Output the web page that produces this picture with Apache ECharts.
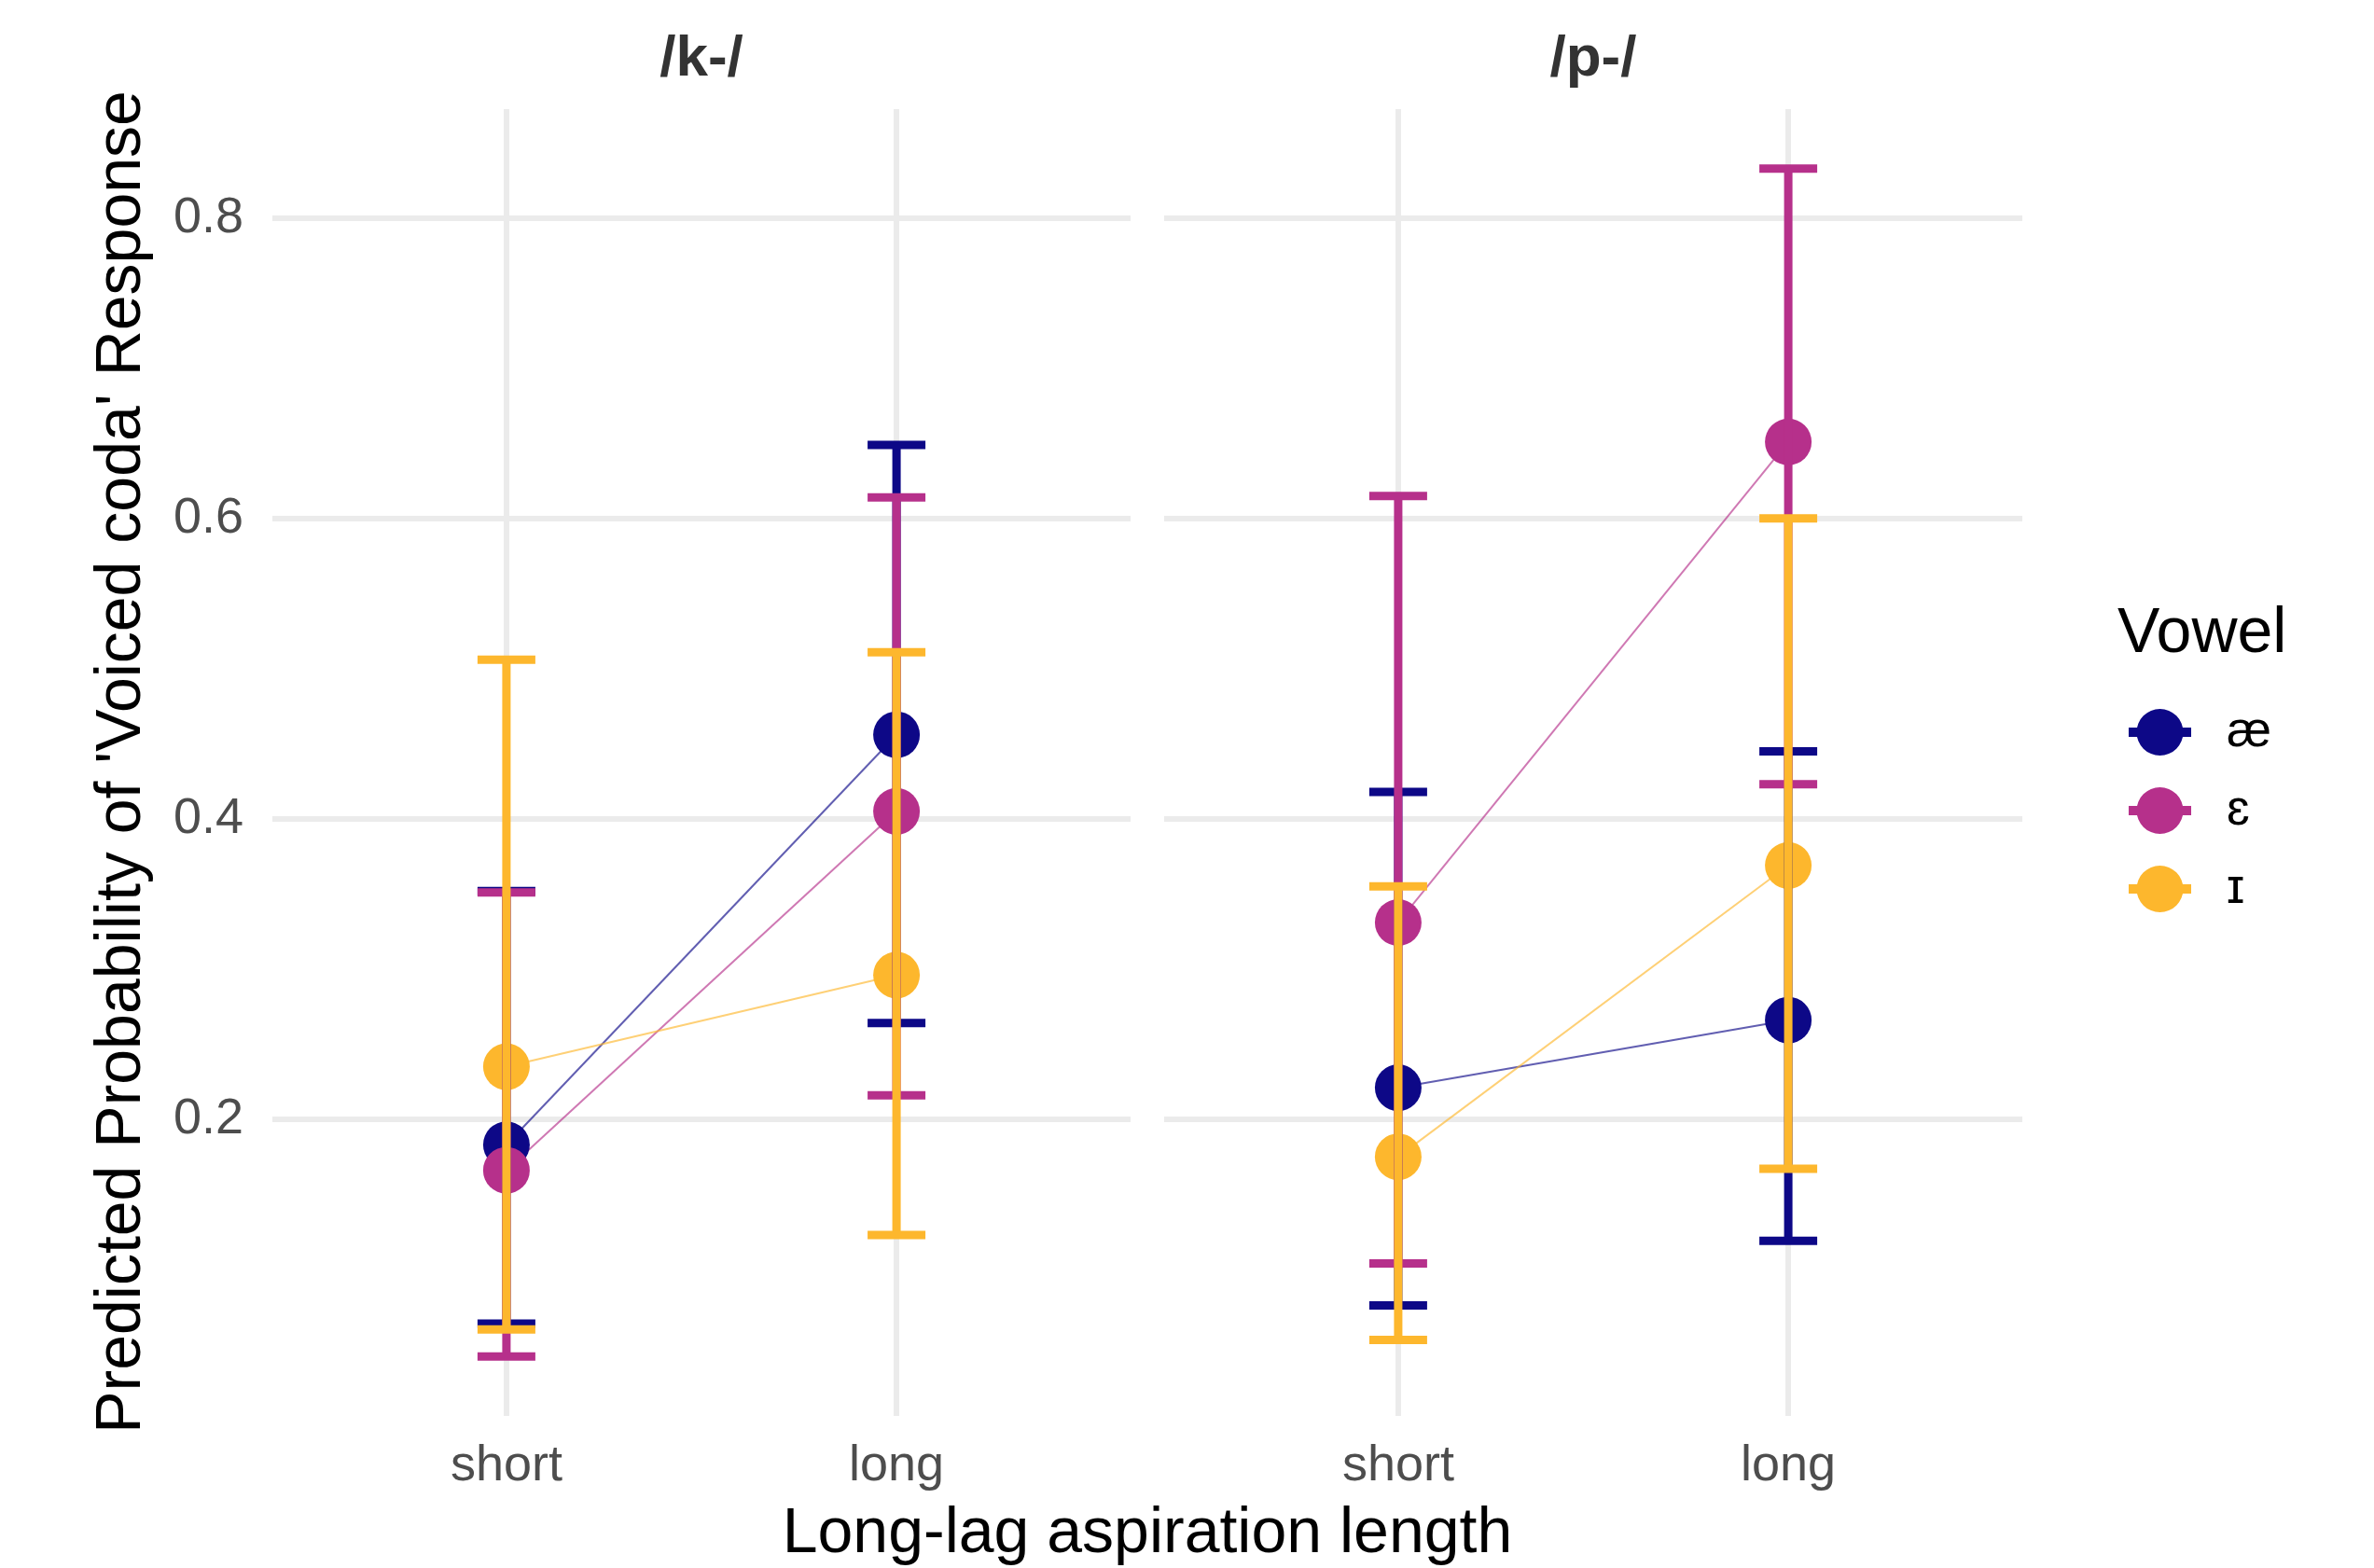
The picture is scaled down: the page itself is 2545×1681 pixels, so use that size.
<!DOCTYPE html>
<html>
<head>
<meta charset="utf-8">
<script src="https://cdn.jsdelivr.net/npm/echarts@6/dist/echarts.min.js"></script>
<style>
html,body{margin:0;padding:0;background:#fff;}
#chart{width:2545px;height:1681px;}
</style>
</head>
<body>
<div id="chart"></div>
<script>
// ---------- data ----------
const panelTitles = ['/k-/', '/p-/'];
const durations = ['short', 'long'];
const vowels = ['æ', 'ɛ', 'ɪ'];
const yTicks = [0.2, 0.4, 0.6, 0.8];

// rows: vowel (æ, ɛ, ɪ); columns: duration (short, long)
const kEstimate = [[0.183, 0.456], [0.166, 0.405], [0.235, 0.296]];
const kLower    = [[0.064, 0.264], [0.042, 0.216], [0.060, 0.123]];
const kUpper    = [[0.352, 0.649], [0.351, 0.614], [0.506, 0.511]];

const pEstimate = [[0.221, 0.266], [0.331, 0.651], [0.175, 0.369]];
const pLower    = [[0.076, 0.119], [0.104, 0.423], [0.053, 0.167]];
const pUpper    = [[0.418, 0.445], [0.615, 0.833], [0.355, 0.600]];

// ---------- style ----------
const vowelColors = ['#0D0887', '#B6308B', '#FDB72D'];
const FONT = '"Liberation Sans", Arial, Helvetica, sans-serif';
const GRID_COLOR = '#EBEBEB';

const panels = [
  {est: kEstimate, lo: kLower, hi: kUpper},
  {est: pEstimate, lo: pLower, hi: pUpper}
];

const allLo = [].concat(...kLower, ...pLower);
const allHi = [].concat(...kUpper, ...pUpper);
const dMin = Math.min(...allLo), dMax = Math.max(...allHi);
const pad = (dMax - dMin) * 0.05;
const yMin = dMin - pad, yMax = dMax + pad;

const gridTop = 117, gridHeight = 1401;
const gridLefts = [292, 1248], gridWidth = 920;

const grids = gridLefts.map(l => ({left: l, top: gridTop, width: gridWidth, height: gridHeight}));

const xAxes = gridLefts.map((l, i) => ({
  type: 'value', gridIndex: i, min: 0.4, max: 2.6, splitNumber: 2,
  axisLine: {show: false}, axisTick: {show: false}, splitLine: {show: false},
  axisLabel: {
    show: true, margin: 27, color: '#4D4D4D', fontSize: 54, fontFamily: FONT,
    showMinLabel: false, showMaxLabel: false,
    formatter: v => {
      const r = Math.round(v);
      return (Math.abs(v - r) < 1e-6 && r >= 1 && r <= durations.length) ? durations[r - 1] : '';
    }
  }
}));

const yAxes = gridLefts.map((l, i) => ({
  type: 'value', gridIndex: i, min: yMin, max: yMax,
  axisLine: {show: false}, axisTick: {show: false}, splitLine: {show: false},
  axisLabel: {
    show: i === 0, margin: 31, color: '#4D4D4D', fontSize: 54, fontFamily: FONT,
    showMinLabel: false, showMaxLabel: false,
    formatter: v => yTicks.some(t => Math.abs(t - v) < 1e-6) ? v.toFixed(1) : ''
  }
}));

const series = [];
panels.forEach((pn, pi) => {
  // grid lines
  series.push({
    type: 'line', name: '', xAxisIndex: pi, yAxisIndex: pi, data: [], silent: true, z: 0,
    markLine: {
      z: 0, silent: true, symbol: ['none', 'none'], animation: false,
      label: {show: false}, emphasis: {disabled: true},
      lineStyle: {color: GRID_COLOR, width: 6, type: 'solid'},
      data: yTicks.map(t => ({yAxis: t})).concat(durations.map((d, di) => ({xAxis: di + 1})))
    }
  });
  // connecting lines
  vowels.forEach((v, vi) => {
    series.push({
      type: 'line', name: v, xAxisIndex: pi, yAxisIndex: pi, z: 10,
      showSymbol: false, silent: true,
      lineStyle: {color: vowelColors[vi], width: 2, opacity: 0.65},
      data: durations.map((d, di) => [di + 1, pn.est[vi][di]])
    });
  });
  // points
  vowels.forEach((v, vi) => {
    series.push({
      type: 'scatter', name: v, xAxisIndex: pi, yAxisIndex: pi, z: 11,
      symbol: 'circle', symbolSize: 50, silent: true,
      itemStyle: {color: vowelColors[vi], opacity: 1},
      data: durations.map((d, di) => [di + 1, pn.est[vi][di]])
    });
  });
  // error bars (drawn as filled rectangles)
  vowels.forEach((v, vi) => {
    series.push({
      type: 'custom', name: v, xAxisIndex: pi, yAxisIndex: pi, z: 12 + vi, silent: true,
      encode: {x: 0, y: [1, 2]},
      data: durations.map((d, di) => [di + 1, pn.lo[vi][di], pn.hi[vi][di]]),
      renderItem: (params, api) => {
        const x = api.value(0), lo = api.value(1), hi = api.value(2);
        const a = api.coord([x, lo]), b = api.coord([x, hi]);
        const hw = 31, lw = 9, c = vowelColors[vi];
        return {
          type: 'group',
          children: [
            {type: 'rect', shape: {x: a[0] - lw / 2, y: b[1], width: lw, height: a[1] - b[1]}, style: {fill: c}},
            {type: 'rect', shape: {x: a[0] - hw, y: a[1] - lw / 2, width: 2 * hw, height: lw}, style: {fill: c}},
            {type: 'rect', shape: {x: b[0] - hw, y: b[1] - lw / 2, width: 2 * hw, height: lw}, style: {fill: c}}
          ]
        };
      }
    });
  });
});

const legendIcon = 'path://M0,20L67,20L67,30L0,30Z M8.5,25A25,25 0 1,1 58.5,25A25,25 0 1,1 8.5,25Z';

const option = {
  animation: false,
  backgroundColor: '#ffffff',
  grid: grids,
  xAxis: xAxes,
  yAxis: yAxes,
  legend: {
    orient: 'vertical', left: 2277, top: 753, itemWidth: 67, itemHeight: 50, itemGap: 30,
    selectedMode: false,
    textStyle: {fontSize: 54, fontFamily: FONT, color: '#000', lineHeight: 50, padding: [0, 0, 0, 33]},
    data: vowels.map((v, vi) => ({name: v, icon: legendIcon, itemStyle: {color: vowelColors[vi]}}))
  },
  graphic: [
    {type: 'text', x: 131, y: 817, rotation: Math.PI / 2, silent: true,
     style: {text: "Predicted Probability of 'Voiced coda' Response", fontSize: 68, fontFamily: FONT,
             fill: '#000', textAlign: 'center', textVerticalAlign: 'middle'}},
    {type: 'text', x: (gridLefts[0] + gridLefts[1] + gridWidth) / 2, y: 1645, silent: true,
     style: {text: 'Long-lag aspiration length', fontSize: 68, fontFamily: FONT,
             fill: '#000', textAlign: 'center', textVerticalAlign: 'middle'}},
    {type: 'text', x: 2270, y: 680, silent: true,
     style: {text: 'Vowel', fontSize: 68, fontFamily: FONT, fill: '#000',
             textAlign: 'left', textVerticalAlign: 'middle'}}
  ].concat(panelTitles.map((t, i) => ({
    type: 'text', x: gridLefts[i] + gridWidth / 2, y: 64, silent: true,
    style: {text: t, fontSize: 62, fontWeight: 'bold', fontFamily: FONT, fill: '#333333',
            textAlign: 'center', textVerticalAlign: 'middle'}
  }))),
  series: series
};

const chart = echarts.init(document.getElementById('chart'), null, {renderer: 'canvas'});
chart.setOption(option);
</script>
</body>
</html>
